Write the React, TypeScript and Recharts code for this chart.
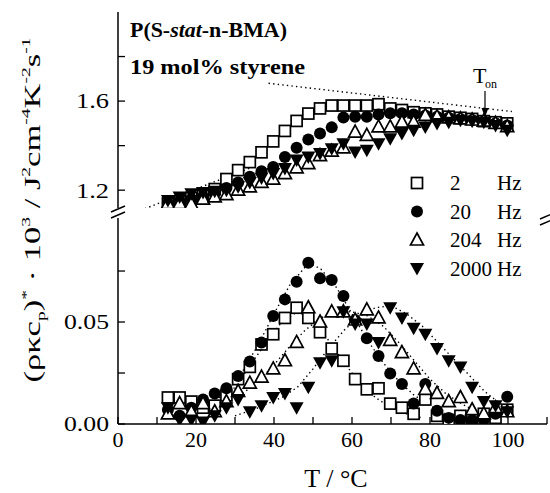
import React from 'react';
import { ScatterChart, Scatter, XAxis, YAxis } from 'recharts';

const FONT = "'Liberation Serif', 'Times New Roman', 'DejaVu Serif', serif";
const fontStyle = { fontFamily: FONT };

// ---------- data ----------
const temperatures = [12.8, 15.8, 18.8, 21.8, 24.8, 27.8, 30.8, 33.8, 36.8, 39.8, 42.8, 45.8, 48.8, 51.8, 54.8, 57.8, 60.8, 63.8, 66.8, 69.8, 72.8, 75.8, 78.8, 81.8, 84.8, 87.8, 90.8, 93.8, 96.8, 99.8];

// upper panel (real part)
const hz2Upper = [1.14, 1.15, 1.165, 1.18, 1.205, 1.25, 1.29, 1.326, 1.37, 1.419, 1.466, 1.511, 1.544, 1.567, 1.58, 1.58, 1.58, 1.58, 1.586, 1.567, 1.56, 1.55, 1.545, 1.54, 1.53, 1.525, 1.52, 1.51, 1.505, 1.5];
const hz20Upper = [1.14, 1.15, 1.16, 1.17, 1.185, 1.21, 1.235, 1.26, 1.285, 1.304, 1.349, 1.39, 1.428, 1.454, 1.482, 1.526, 1.53, 1.53, 1.54, 1.545, 1.545, 1.54, 1.535, 1.53, 1.525, 1.52, 1.515, 1.51, 1.5, 1.49];
const hz204Upper = [1.14, 1.14, 1.139, 1.16, 1.17, 1.18, 1.2, 1.215, 1.235, 1.25, 1.274, 1.3, 1.319, 1.355, 1.375, 1.39, 1.461, 1.446, 1.484, 1.484, 1.506, 1.506, 1.536, 1.53, 1.525, 1.52, 1.515, 1.51, 1.5, 1.485];
const hz2000Upper = [1.154, 1.169, 1.184, 1.19, 1.195, 1.2, 1.215, 1.235, 1.255, 1.275, 1.297, 1.335, 1.349, 1.365, 1.386, 1.409, 1.371, 1.379, 1.409, 1.431, 1.454, 1.469, 1.484, 1.499, 1.505, 1.514, 1.51, 1.505, 1.49, 1.469];

// lower panel (imaginary part)
const hz2Lower = [0.013, 0.013, 0.011, 0.008, 0.009, 0.014, 0.022, 0.028, 0.039, 0.044, 0.052, 0.057, 0.052, 0.045, 0.037, 0.031, 0.022, 0.017, 0.0175, 0.01, 0.008, 0.005, 0.012, 0.004, 0.002, 0.004, 0.003, 0.005, 0.003, 0.007];
const hz20Lower = [0.007, 0.004, 0.008, 0.012, 0.015, 0.0175, 0.0235, 0.0306, 0.0399, 0.0529, 0.0611, 0.0698, 0.0791, 0.0714, 0.0706, 0.0627, 0.051, 0.042, 0.0333, 0.0248, 0.0196, 0.01, 0.0196, 0.0065, 0.003, 0.002, 0.002, 0.002, 0.005, 0.0134];
const hz204Lower = [0.005, 0.01, 0.006, 0.01, 0.006, 0.011, 0.016, 0.02, 0.023, 0.027, 0.031, 0.04, 0.057, 0.05, 0.055, 0.055, 0.051, 0.056, 0.052, 0.041, 0.035, 0.027, 0.017, 0.015, 0.011, 0.013, 0.007, 0.005, 0.008, 0.006];
const hz2000Lower = [0.008, 0.002, 0.002, 0.001, 0.004, 0.008, 0.012, 0.006, 0.009, 0.013, 0.015, 0.008, 0.018, 0.03, 0.031, 0.055, 0.049, 0.049, 0.04, 0.057, 0.052, 0.047, 0.044, 0.037, 0.031, 0.028, 0.018, 0.011, 0.009, 0.006];

// dotted guide / fit curves
const liquidLine: [number, number][] = [[38.6, 1.68], [101, 1.553]];
const glassLine: [number, number][] = [[6.9, 1.117], [34, 1.3]];
const fit2Hz: [number, number][] = [[22, 0.007], [26, 0.011], [30, 0.018], [34, 0.029], [38, 0.04], [42, 0.05], [46, 0.055], [50, 0.051], [54, 0.041], [58, 0.03], [62, 0.02], [66, 0.013], [70, 0.008], [74, 0.005], [78, 0.003]];
const fit20Hz: [number, number][] = [[24, 0.01], [28, 0.016], [32, 0.026], [36, 0.039], [40, 0.054], [44, 0.068], [48, 0.077], [50, 0.078], [52, 0.076], [56, 0.067], [60, 0.054], [64, 0.041], [68, 0.03], [72, 0.021], [76, 0.014], [80, 0.009], [84, 0.005], [88, 0.003]];
const fit204Hz: [number, number][] = [[28, 0.01], [32, 0.015], [36, 0.021], [40, 0.029], [44, 0.038], [48, 0.046], [52, 0.052], [56, 0.055], [60, 0.055], [64, 0.053], [68, 0.048], [72, 0.04], [76, 0.031], [80, 0.022], [84, 0.015], [88, 0.01], [92, 0.006]];
const fit2000Hz: [number, number][] = [[30, 0.004], [36, 0.008], [42, 0.013], [46, 0.018], [50, 0.027], [54, 0.037], [58, 0.046], [62, 0.053], [66, 0.057], [70, 0.058], [74, 0.054], [78, 0.048], [82, 0.04], [86, 0.032], [90, 0.024], [94, 0.016], [98, 0.01], [101, 0.006]];

const xTicks = [0, 10, 20, 30, 40, 50, 60, 70, 80, 90, 100, 110];
const xTickLabels: Record<number, string> = { 0: '0', 20: '20', 40: '40', 60: '60', 80: '80', 100: '100' };
const upperYTicks = [1.2, 1.4, 1.6, 1.8];
const upperYTickLabels: Record<number, string> = { 1.2: '1.2', 1.6: '1.6' };
const lowerYTicks = [0, 0.025, 0.05, 0.075];
const lowerYTickLabels: Record<number, string> = { 0: '0.00', 0.05: '0.05' };

const legendItems = [
  { num: '2', shape: 'square' },
  { num: '20', shape: 'circle' },
  { num: '204', shape: 'triUp' },
  { num: '2000', shape: 'triDown' },
];

// ---------- helpers ----------
const toPoints = (vals: number[]) => temperatures.map((t, i) => ({ x: t, y: vals[i] }));
const pairsToPoints = (pairs: [number, number][]) => pairs.map(([x, y]) => ({ x, y }));

const SW = 1.7;
const drawMarker = (shape: string, cx: number, cy: number) => {
  switch (shape) {
    case 'square':
      return <rect x={cx - 5.5} y={cy - 5.5} width={11} height={11} fill="#fff" stroke="#000" strokeWidth={SW} />;
    case 'circle':
      return <circle cx={cx} cy={cy} r={6} fill="#000" />;
    case 'triUp':
      return <polygon points={`${cx},${cy - 7} ${cx + 6.5},${cy + 5} ${cx - 6.5},${cy + 5}`} fill="#fff" stroke="#000" strokeWidth={SW} strokeLinejoin="miter" />;
    default:
      return <polygon points={`${cx - 7},${cy - 5.5} ${cx + 7},${cy - 5.5} ${cx},${cy + 7}`} fill="#000" />;
  }
};
const shapeFn = (shape: string) => (p: any) => <g>{drawMarker(shape, p.cx, p.cy)}</g>;
const noShape = () => <g />;

const TICK_LEN = 7;
const TW = 1.3;
const leftTick = (labels: Record<number, string>, widths: Record<string, number>) => (p: any) => {
  const lab = labels[p.payload.value];
  return (
    <g>
      <line x1={p.x} x2={p.x + TICK_LEN} y1={p.y} y2={p.y} stroke="#000" strokeWidth={TW} />
      {lab && (
        <text x={p.x - 9} y={p.y} dy="0.35em" textAnchor="end" style={fontStyle} fontSize={21} fill="#000"
          textLength={widths[lab]} lengthAdjust="spacingAndGlyphs">{lab}</text>
      )}
    </g>
  );
};
const rightTick = (p: any) => (
  <line x1={p.x} x2={p.x - TICK_LEN} y1={p.y} y2={p.y} stroke="#000" strokeWidth={TW} />
);
const topTick = (p: any) => (
  <line x1={p.x} x2={p.x} y1={p.y} y2={p.y + TICK_LEN} stroke="#000" strokeWidth={TW} />
);
const bottomTick = (p: any) => {
  const lab = xTickLabels[p.payload.value];
  return (
    <g>
      <line x1={p.x} x2={p.x} y1={p.y} y2={p.y - TICK_LEN} stroke="#000" strokeWidth={TW} />
      {lab && (
        <text x={p.x} y={p.y + 23} textAnchor="middle" style={fontStyle} fontSize={22} fill="#000">{lab}</text>
      )}
    </g>
  );
};

const axisLine = { stroke: '#000', strokeWidth: 1.5 };
const dotted = { stroke: '#000', strokeWidth: 1.4, strokeDasharray: '1.4 3.2', fill: 'none' };

const seriesDefs = [
  { shape: 'square', up: hz2Upper, low: hz2Lower },
  { shape: 'circle', up: hz20Upper, low: hz20Lower },
  { shape: 'triUp', up: hz204Upper, low: hz204Lower },
  { shape: 'triDown', up: hz2000Upper, low: hz2000Lower },
];

export default function App() {
  const sup = 13;
  return (
    <div style={{ position: 'absolute', left: 0, top: 0, width: 550, height: 493, background: '#fff', fontFamily: FONT }}>
      {/* upper panel */}
      <div style={{ position: 'absolute', left: 0, top: 0 }}>
        <ScatterChart width={550} height={493} margin={{ top: 12, right: 3, bottom: 285, left: 0 }}>
          <XAxis xAxisId="x" type="number" dataKey="x" domain={[0, 110]} orientation="top" height={0}
            ticks={xTicks} interval={0} tickSize={0} tickMargin={0} tickLine={false} tick={topTick}
            axisLine={axisLine} allowDataOverflow />
          <YAxis yAxisId="l" type="number" dataKey="y" domain={[1.12, 2.0]} width={118}
            ticks={upperYTicks} interval={0} tickSize={0} tickMargin={0} tickLine={false}
            tick={leftTick(upperYTickLabels, { '1.2': 33, '1.6': 33 })} axisLine={axisLine} allowDataOverflow />
          <YAxis yAxisId="r" orientation="right" type="number" dataKey="y" domain={[1.12, 2.0]} width={0}
            ticks={upperYTicks} interval={0} tickSize={0} tickMargin={0} tickLine={false}
            tick={rightTick} axisLine={axisLine} allowDataOverflow />
          <Scatter xAxisId="x" yAxisId="l" data={pairsToPoints(liquidLine)} line={dotted} lineType="joint" shape={noShape} isAnimationActive={false} />
          <Scatter xAxisId="x" yAxisId="l" data={pairsToPoints(glassLine)} line={dotted} lineType="joint" shape={noShape} isAnimationActive={false} />
          {seriesDefs.map((s) => (
            <Scatter key={'u' + s.shape} xAxisId="x" yAxisId="l" data={toPoints(s.up)} shape={shapeFn(s.shape)} isAnimationActive={false} />
          ))}
        </ScatterChart>
      </div>

      {/* lower panel */}
      <div style={{ position: 'absolute', left: 0, top: 0 }}>
        <ScatterChart width={550} height={493} margin={{ top: 218, right: 3, bottom: 0, left: 0 }}>
          <XAxis xAxisId="x" type="number" dataKey="x" domain={[0, 110]} orientation="bottom" height={69}
            ticks={xTicks} interval={0} tickSize={0} tickMargin={0} tickLine={false} tick={bottomTick}
            axisLine={axisLine} allowDataOverflow />
          <YAxis yAxisId="l" type="number" dataKey="y" domain={[0, 0.101]} width={118}
            ticks={lowerYTicks} interval={0} tickSize={0} tickMargin={0} tickLine={false}
            tick={leftTick(lowerYTickLabels, { '0.00': 45, '0.05': 45 })} axisLine={axisLine} allowDataOverflow />
          <YAxis yAxisId="r" orientation="right" type="number" dataKey="y" domain={[0, 0.101]} width={0}
            ticks={lowerYTicks} interval={0} tickSize={0} tickMargin={0} tickLine={false}
            tick={rightTick} axisLine={axisLine} allowDataOverflow />
          {[fit2Hz, fit20Hz, fit204Hz, fit2000Hz].map((f, i) => (
            <Scatter key={'f' + i} xAxisId="x" yAxisId="l" data={pairsToPoints(f)} line={dotted} lineType="joint" shape={noShape} isAnimationActive={false} />
          ))}
          {seriesDefs.map((s) => (
            <Scatter key={'l' + s.shape} xAxisId="x" yAxisId="l" data={toPoints(s.low)} shape={shapeFn(s.shape)} isAnimationActive={false} />
          ))}
        </ScatterChart>
      </div>

      {/* annotations */}
      <svg width={550} height={493} style={{ position: 'absolute', left: 0, top: 0, pointerEvents: 'none', fontFamily: FONT }}>
        {/* axis break marks */}
        <g stroke="#000" strokeWidth={1.5}>
          <line x1={111} y1={212} x2={125} y2={206} />
          <line x1={111} y1={218} x2={125} y2={212} />
          <line x1={540} y1={219} x2={554} y2={213} />
          <line x1={540} y1={225} x2={554} y2={219} />
        </g>

        <text x={130} y={37} fontSize={20} fontWeight="bold" textLength={157} lengthAdjust="spacingAndGlyphs" style={fontStyle}>
          P(S-<tspan fontStyle="italic">stat</tspan>-n-BMA)
        </text>
        <text x={130} y={74} fontSize={20} fontWeight="bold" textLength={175} lengthAdjust="spacingAndGlyphs" style={fontStyle}>
          19 mol% styrene
        </text>

        {/* T_on */}
        <text x={473} y={83} fontSize={22} style={fontStyle}>T</text>
        <text x={485} y={88} fontSize={12} style={fontStyle}>on</text>
        <line x1={485} y1={91} x2={485} y2={110} stroke="#000" strokeWidth={1.2} />
        <polygon points="481.5,108 488.5,108 485,117" fill="#000" />

        {/* legend */}
        {legendItems.map((it, i) => {
          const cy = 183 + i * 28.5;
          return (
            <g key={it.num}>
              {drawMarker(it.shape, 417, cy)}
              <text x={450} y={cy + 7} fontSize={21} style={fontStyle}>{it.num}</text>
              <text x={497} y={cy + 7} fontSize={21} style={fontStyle}>Hz</text>
            </g>
          );
        })}

        {/* axis titles */}
        <text x={336} y={487} fontSize={26} textAnchor="middle" style={fontStyle}>T / °C</text>
        <text transform="translate(40,210) rotate(-90)" x={0} y={0} fontSize={23} textAnchor="middle"
          textLength={345} lengthAdjust="spacingAndGlyphs" style={fontStyle}>
          (ρκc<tspan fontSize={sup} dy={5}>p</tspan><tspan dy={-5}>)</tspan>
          <tspan fontSize={sup} dy={-10}>*</tspan><tspan dy={10}> · 10</tspan>
          <tspan fontSize={sup} dy={-10}>3</tspan><tspan dy={10}> / J</tspan>
          <tspan fontSize={sup} dy={-10}>2</tspan><tspan dy={10}>cm</tspan>
          <tspan fontSize={sup} dy={-10}>-4</tspan><tspan dy={10}>K</tspan>
          <tspan fontSize={sup} dy={-10}>-2</tspan><tspan dy={10}>s</tspan>
          <tspan fontSize={sup} dy={-10}>-1</tspan>
        </text>
      </svg>
    </div>
  );
}
